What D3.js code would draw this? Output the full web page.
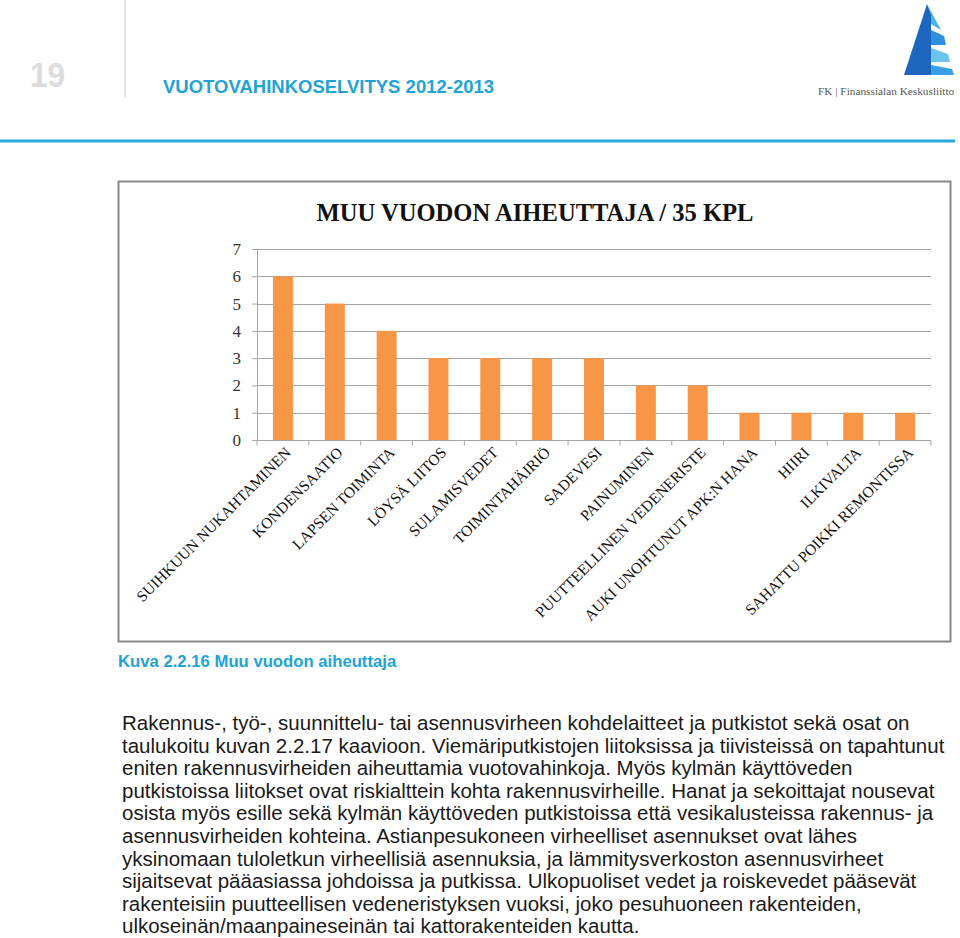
<!DOCTYPE html>
<html>
<head>
<meta charset="utf-8">
<script src="https://cdn.jsdelivr.net/npm/d3@7"></script>
<style>
  body { margin: 0; background: #fff; }
  svg { display: block; }
</style>
</head>
<body>
<div id="page"></div>
<script>
const categories = [
  "SUIHKUUN NUKAHTAMINEN",
  "KONDENSAATIO",
  "LAPSEN TOIMINTA",
  "LÖYSÄ LIITOS",
  "SULAMISVEDET",
  "TOIMINTAHÄIRIÖ",
  "SADEVESI",
  "PAINUMINEN",
  "PUUTTEELLINEN VEDENERISTE",
  "AUKI UNOHTUNUT APK:N HANA",
  "HIIRI",
  "ILKIVALTA",
  "SAHATTU POIKKI REMONTISSA"
];
const values = [6, 5, 4, 3, 3, 3, 3, 2, 2, 1, 1, 1, 1];
const yTicks = [0, 1, 2, 3, 4, 5, 6, 7];

const chartTitle = "MUU VUODON AIHEUTTAJA / 35 KPL";
const pageNumber = "19";
const headerTitle = "VUOTOVAHINKOSELVITYS 2012-2013";
const logoText = "FK | Finanssialan Keskusliitto";
const caption = "Kuva 2.2.16 Muu vuodon aiheuttaja";
const bodyLines = [
  "Rakennus-, työ-, suunnittelu- tai asennusvirheen kohdelaitteet ja putkistot sekä osat on",
  "taulukoitu kuvan 2.2.17 kaavioon. Viemäriputkistojen liitoksissa ja tiivisteissä on tapahtunut",
  "eniten rakennusvirheiden aiheuttamia vuotovahinkoja. Myös kylmän käyttöveden",
  "putkistoissa liitokset ovat riskialttein kohta rakennusvirheille. Hanat ja sekoittajat nousevat",
  "osista myös esille sekä kylmän käyttöveden putkistoissa että vesikalusteissa rakennus- ja",
  "asennusvirheiden kohteina. Astianpesukoneen virheelliset asennukset ovat lähes",
  "yksinomaan tuloletkun virheellisiä asennuksia, ja lämmitysverkoston asennusvirheet",
  "sijaitsevat pääasiassa johdoissa ja putkissa. Ulkopuoliset vedet ja roiskevedet pääsevät",
  "rakenteisiin puutteellisen vedeneristyksen vuoksi, joko pesuhuoneen rakenteiden,",
  "ulkoseinän/maanpaineseinän tai kattorakenteiden kautta."
];

const W = 960, H = 938;
const blue = "#21a3d6";
const serif = "'Liberation Serif', 'DejaVu Serif', serif";
const sans = "'Liberation Sans', Arial, sans-serif";

const svg = d3.select("#page").append("svg")
  .attr("width", W)
  .attr("height", H);

// page header
svg.append("text")
  .attr("x", 30).attr("y", 87)
  .attr("transform", "translate(30,0) scale(0.9,1) translate(-30,0)")
  .style("font-family", sans)
  .style("font-weight", "bold")
  .style("font-size", "35px")
  .attr("fill", "#dcdcdc")
  .text(pageNumber);

svg.append("line")
  .attr("x1", 125).attr("x2", 125)
  .attr("y1", 0).attr("y2", 97)
  .attr("stroke", "#dddddd")
  .attr("stroke-width", 1.5);

svg.append("text")
  .attr("x", 163).attr("y", 93)
  .style("font-family", sans)
  .style("font-weight", "bold")
  .style("font-size", "18.5px")
  .attr("fill", blue)
  .text(headerTitle);

svg.append("line")
  .attr("x1", 0).attr("x2", 955)
  .attr("y1", 141).attr("y2", 141)
  .attr("stroke", "#29a9d9")
  .attr("stroke-width", 3);

// logo
const logo = svg.append("g");
const logoParts = [
  { fill: "#1c66bf", pts: [[927, 4], [904, 75], [931, 75], [931, 14]] },
  { fill: "#48b2ea", pts: [[927, 4], [931, 14], [931, 24], [941, 30]] },
  { fill: "#2f8fdc", pts: [[931, 30], [944, 36], [946, 45], [931, 45]] },
  { fill: "#6cc3f0", pts: [[931, 48], [948, 54], [950, 62], [931, 62]] },
  { fill: "#3aa0e6", pts: [[931, 65], [952, 69], [954, 75], [931, 75]] }
];
logo.selectAll("polygon")
  .data(logoParts)
  .enter()
  .append("polygon")
  .attr("points", d => d.pts.map(p => p.join(",")).join(" "))
  .attr("fill", d => d.fill);

svg.append("text")
  .attr("x", 818).attr("y", 95)
  .style("font-family", serif)
  .style("font-size", "11.3px")
  .attr("fill", "#555")
  .text(logoText);

// chart frame
svg.append("rect")
  .attr("x", 118.5).attr("y", 181.5)
  .attr("width", 832).attr("height", 460)
  .attr("fill", "#fff")
  .attr("stroke", "#8a8a8a")
  .attr("stroke-width", 2);

svg.append("text")
  .attr("x", 535).attr("y", 221)
  .attr("text-anchor", "middle")
  .style("font-family", serif)
  .style("font-weight", "bold")
  .style("font-size", "24.6px")
  .attr("fill", "#111")
  .text(chartTitle);

const plot = { left: 257, right: 931, top: 249, bottom: 440 };

const x = d3.scaleBand()
  .domain(categories)
  .range([plot.left, plot.right])
  .paddingInner(0.615)
  .paddingOuter(0.3075);

const xCell = d3.scaleBand()
  .domain(categories)
  .range([plot.left, plot.right])
  .padding(0);

const y = d3.scaleLinear()
  .domain([0, 7])
  .range([plot.bottom, plot.top]);

// gridlines
svg.append("g")
  .selectAll("line")
  .data(yTicks)
  .enter()
  .append("line")
  .attr("x1", plot.left).attr("x2", plot.right)
  .attr("y1", d => Math.round(y(d)) + 0.5)
  .attr("y2", d => Math.round(y(d)) + 0.5)
  .attr("stroke", "#a6a6a6")
  .attr("stroke-width", 1.2);

// y axis
const yAxis = svg.append("g")
  .attr("transform", `translate(${plot.left},0)`)
  .call(d3.axisLeft(y).tickValues(yTicks).tickSize(5).tickPadding(11).tickFormat(d3.format("d")));
yAxis.select(".domain").attr("stroke", "#a6a6a6");
yAxis.selectAll(".tick line").attr("stroke", "#a6a6a6");
yAxis.selectAll("text")
  .style("font-family", serif)
  .style("font-size", "17px")
  .attr("fill", "#333");

// bars
svg.append("g")
  .selectAll("rect")
  .data(values)
  .enter()
  .append("rect")
  .attr("x", (d, i) => x(categories[i]))
  .attr("width", x.bandwidth())
  .attr("y", d => y(d))
  .attr("height", d => y(0) - y(d))
  .attr("fill", "#f79646");

// x axis
const xAxis = svg.append("g")
  .attr("transform", `translate(0,${plot.bottom + 0.5})`);
xAxis.append("line")
  .attr("x1", plot.left).attr("x2", plot.right)
  .attr("stroke", "#a6a6a6")
  .attr("stroke-width", 1.2);
xAxis.selectAll(".tickmark")
  .data(categories.concat([null]))
  .enter()
  .append("line")
  .attr("class", "tickmark")
  .attr("x1", d => d === null ? plot.right : xCell(d))
  .attr("x2", d => d === null ? plot.right : xCell(d))
  .attr("y1", 0).attr("y2", 5)
  .attr("stroke", "#a6a6a6");

xAxis.selectAll(".lbl")
  .data(categories)
  .enter()
  .append("text")
  .attr("class", "lbl")
  .attr("text-anchor", "end")
  .attr("transform", d => `translate(${x(d) + x.bandwidth() / 2 + 9},${13}) rotate(-45)`)
  .style("font-family", serif)
  .style("font-size", "15.5px")
  .attr("fill", "#111")
  .text(d => d);

// caption and body text
svg.append("text")
  .attr("x", 118).attr("y", 667)
  .style("font-family", sans)
  .style("font-weight", "bold")
  .style("font-size", "16.7px")
  .attr("fill", blue)
  .text(caption);

svg.append("g")
  .selectAll("text")
  .data(bodyLines)
  .enter()
  .append("text")
  .attr("x", 122)
  .attr("y", (d, i) => 730 + i * 22.6)
  .style("font-family", sans)
  .style("font-size", "20.5px")
  .attr("fill", "#1a1a1a")
  .text(d => d);
</script>
</body>
</html>
